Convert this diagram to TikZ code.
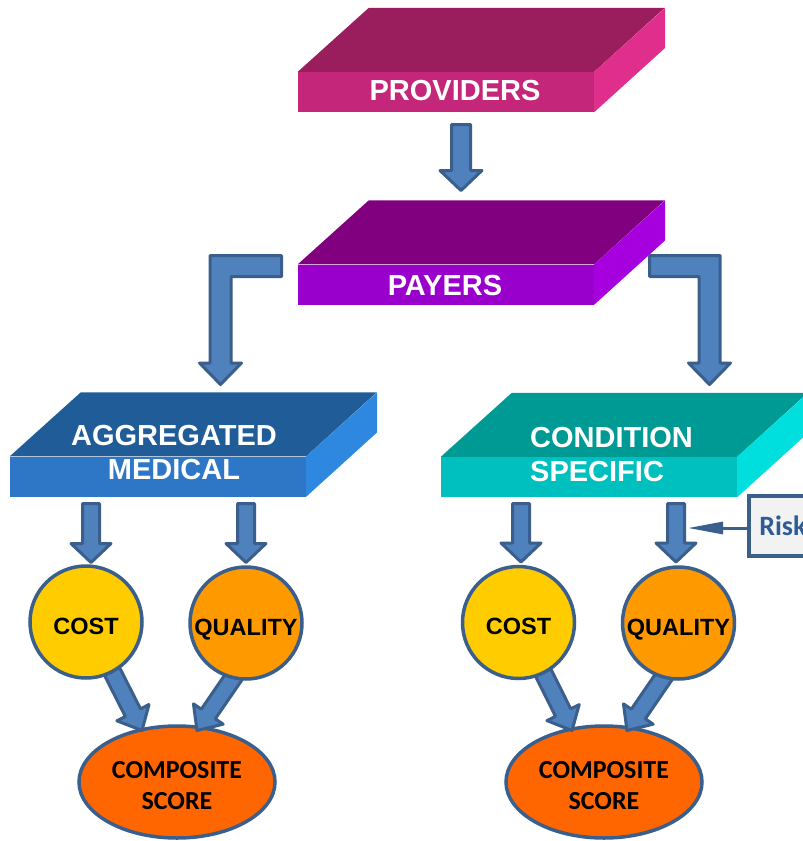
\documentclass[tikz,border=0pt]{standalone}
\usepackage{fontspec}
\setmainfont{Liberation Sans}
\newfontfamily\calibrifont{Carlito}
\usetikzlibrary{calc,shapes.geometric,arrows.meta}

\definecolor{arrowfill}{HTML}{4F81BD}
\definecolor{arrowline}{HTML}{3A5F8C}
\definecolor{provtop}{HTML}{9A1E5D}
\definecolor{provfront}{HTML}{C42779}
\definecolor{provside}{HTML}{DF2E8B}
\definecolor{paytop}{HTML}{800080}
\definecolor{payfront}{HTML}{9900CC}
\definecolor{payside}{HTML}{A500DD}
\definecolor{aggtop}{HTML}{205C98}
\definecolor{aggfront}{HTML}{2E76C6}
\definecolor{aggside}{HTML}{2E88E0}
\definecolor{condtop}{HTML}{009A94}
\definecolor{condfront}{HTML}{00BFBF}
\definecolor{condside}{HTML}{00DEDE}
\definecolor{costfill}{HTML}{FFCC00}
\definecolor{qualfill}{HTML}{FF9900}
\definecolor{scorefill}{HTML}{FF6600}
\definecolor{riskfill}{HTML}{F2F2F2}
\definecolor{risktext}{HTML}{2E5C97}

% straight block arrow: from, tip, shaft half width, head half width, head length
\newcommand\blockarrow[5]{%
  \coordinate (bab) at ($(#2)!#5!(#1)$);
  \draw[barrow] ($(#1)!#3!90:(#2)$) -- ($(bab)!#3!-90:(#1)$) -- ($(bab)!#4!-90:(#1)$)
    -- (#2) -- ($(bab)!#4!90:(#1)$) -- ($(bab)!#3!90:(#1)$) -- ($(#1)!#3!-90:(#2)$) -- cycle;}

% 3-D slab: name, centre of front face, top colour, front colour, side colour
\newcommand\slab[5]{%
  \node[slabfront, fill=#4] (#1) at (#2) {};
  \fill[#3] (#1.north west) -- ++(71,-64) -- ++(296,0) -- (#1.north east) -- cycle;
  \fill[#5] (#1.north east) -- ++(71,-64) -- ++(0,40) -- (#1.south east) -- cycle;}

\begin{document}
\begin{tikzpicture}[x=1pt,y=-1pt,
  barrow/.style={fill=arrowfill, draw=arrowline, line width=3pt, line join=round},
  slabfront/.style={rectangle, minimum width=296pt, minimum height=40pt, inner sep=0pt},
  slabtext/.style={text=white, font=\fontsize{29}{34}\selectfont\bfseries, inner sep=0pt},
  bubble/.style={circle, draw=arrowline, line width=3.5pt, minimum size=112pt, inner sep=0pt,
    font=\fontsize{23.5}{28}\selectfont\bfseries, text height=24pt, text depth=0pt},
  score/.style={ellipse, draw=arrowline, line width=3.5pt, minimum width=196pt, minimum height=112pt,
    fill=scorefill, inner sep=0pt, align=center, font=\calibrifont\fontsize{26}{31}\selectfont\bfseries},
]
\fill[white] (0,0) rectangle (803,841);
\useasboundingbox (0,0) rectangle (803,841);

% slabs
\slab{prov}{446,92}{provtop}{provfront}{provside}
\slab{pay}{446,284.5}{paytop}{payfront}{payside}
\slab{agg}{158,476.5}{aggtop}{aggfront}{aggside}
\slab{cond}{589,477}{condtop}{condfront}{condside}

\node[slabtext] (provtext) at (455,91) {PROVIDERS};
\node[slabtext] (paytext) at (445,286) {PAYERS};
\node[slabtext, align=center] (aggtext) at (174,453) {AGGREGATED\\MEDICAL};
\node[slabtext, align=left, anchor=west] (condtext) at (530,455) {CONDITION\\SPECIFIC};

% providers to payers
\coordinate (a1s) at (461,124.5);
\coordinate (a1t) at (461,190.5);
\blockarrow{a1s}{a1t}{9.5pt}{21pt}{20pt}

% payers to the two branches
\coordinate (lstart) at (281.5,266);
\draw[barrow] ($(lstart)+(0,-10.5)$) -- ++(-71.5,0) -- ++(0,107.5) -- ++(-10.5,0)
  -- ++(21,21.5) -- ++(21,-21.5) -- ++(-10.5,0) -- ++(0,-86.5) -- ++(50.5,0) -- cycle;
\coordinate (rstart) at (649.5,266);
\draw[barrow] ($(rstart)+(0,-10.5)$) -- ++(70.5,0) -- ++(0,107.5) -- ++(10.5,0)
  -- ++(-21,21.5) -- ++(-21,-21.5) -- ++(10.5,0) -- ++(0,-86.5) -- ++(-49.5,0) -- cycle;

% branch slabs to cost / quality
\coordinate (d1s) at (91,503.5);  \coordinate (d1t) at (91,562.5);
\coordinate (d2s) at (246,503.5); \coordinate (d2t) at (246,562.5);
\coordinate (d3s) at (521,503.5); \coordinate (d3t) at (521,562);
\coordinate (d4s) at (676,503.5); \coordinate (d4t) at (676,562);
\blockarrow{d1s}{d1t}{8.5pt}{20pt}{19pt}
\blockarrow{d2s}{d2t}{8.5pt}{20pt}{19pt}
\blockarrow{d3s}{d3t}{8.5pt}{20pt}{19pt}
\blockarrow{d4s}{d4t}{8.5pt}{20pt}{19pt}

% composite scores
\node[score] (score1) at (177,782) {\rule{0pt}{24pt}COMPOSITE\\SCORE};
\node[score] (score2) at (604,782) {\rule{0pt}{24pt}COMPOSITE\\SCORE};

% cost / quality to composite score
\coordinate (e1s) at (92,632);  \coordinate (e1t) at (142,730.5);
\coordinate (e2s) at (259,640); \coordinate (e2t) at (197,730.5);
\coordinate (e3s) at (523,632); \coordinate (e3t) at (572,730.5);
\coordinate (e4s) at (689,640); \coordinate (e4t) at (627,730.5);
\blockarrow{e1s}{e1t}{8.5pt}{18pt}{20pt}
\blockarrow{e2s}{e2t}{8.5pt}{18pt}{20pt}
\blockarrow{e3s}{e3t}{8.5pt}{18pt}{20pt}
\blockarrow{e4s}{e4t}{8.5pt}{18pt}{20pt}

% cost and quality circles
\node[bubble, fill=costfill] (cost1) at (86,622) {COST};
\node[bubble, fill=qualfill] (qual1) at (246,623) {QUALITY};
\node[bubble, fill=costfill] (cost2) at (518.5,622.5) {COST};
\node[bubble, fill=qualfill] (qual2) at (678.5,623) {QUALITY};

% risk adjustment
\node[draw=arrowline, line width=4.5pt, fill=riskfill, minimum height=60pt, minimum width=90pt,
  anchor=west, inner xsep=10.5pt, text width=69pt, align=left, text=risktext,
  font=\calibrifont\fontsize{28}{32}\selectfont\bfseries] (risk) at (746.5,526) {Risk};
\coordinate (riskend) at (688,528);
\draw[arrowline, line width=3pt, -{Triangle[length=35pt,width=12pt]}] (risk.west |- riskend) -- (riskend);
\end{tikzpicture}
\end{document}
